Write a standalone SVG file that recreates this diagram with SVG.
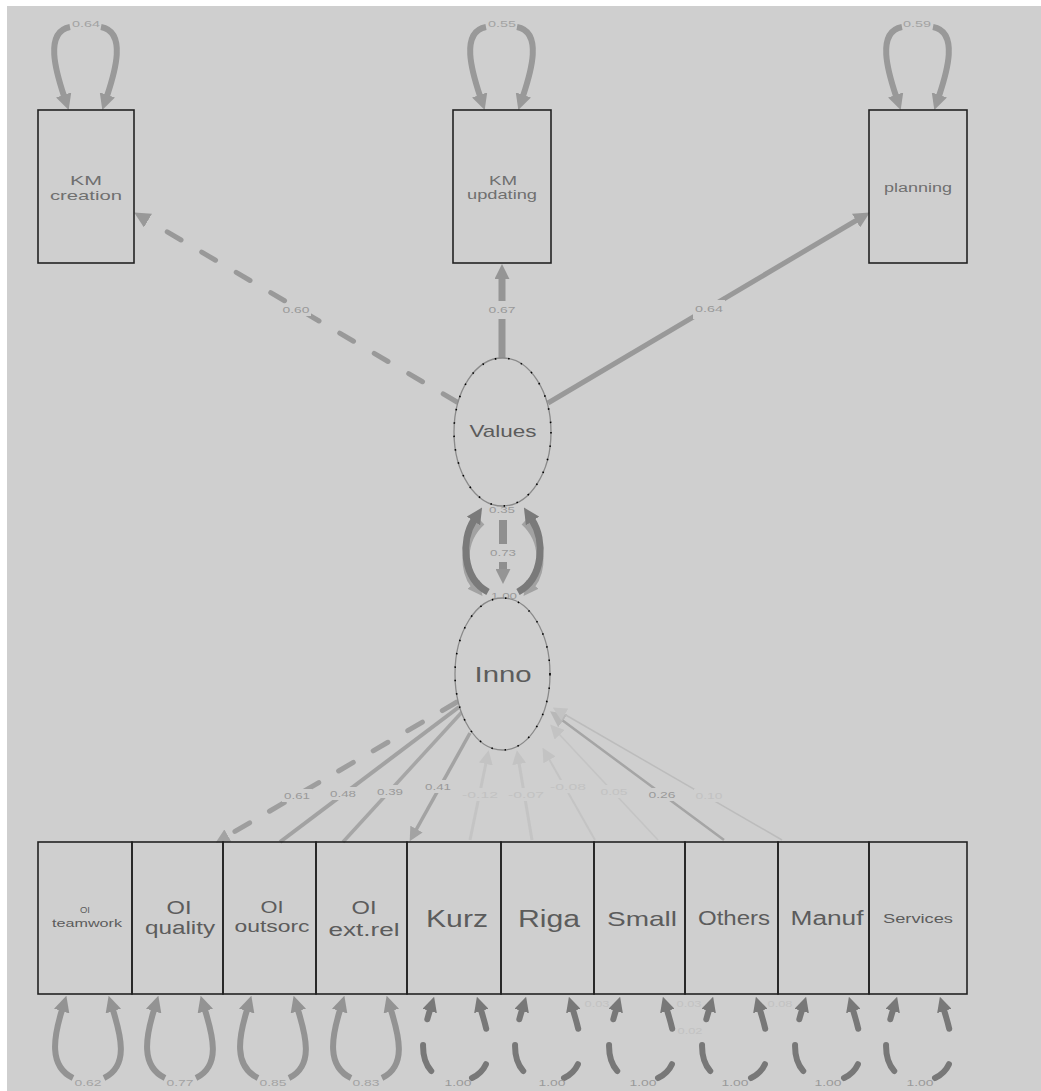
<svg xmlns="http://www.w3.org/2000/svg" width="1041" height="1091" viewBox="0 0 1041 1091">
<defs>
<style>
text{font-family:"Liberation Sans",Arial,sans-serif;text-anchor:middle}
.box{fill:none;stroke:#222;stroke-width:1.6}
.nt{fill:#5c5c5c}
.tn{fill:#707070}
.el{font-size:9px;fill:#9a9a9a}
.ef{font-size:9px;fill:#c2c2c2}
.ll{font-size:9px;fill:#a3a3a3}
.lb{fill:#cfcfcf}
.tl{fill:none;stroke:#999;stroke-width:6;marker-end:url(#aMid)}
.ol{fill:none;stroke:#939393;stroke-width:6;marker-end:url(#aMid2)}
.dl{fill:none;stroke:#787878;stroke-width:6;stroke-linecap:round;marker-end:url(#aDark)}
</style>
<marker id="aMid" viewBox="0 0 14 14" refX="1" refY="7" markerWidth="16" markerHeight="16" markerUnits="userSpaceOnUse" orient="auto"><path d="M0,0 L14,7 L0,14 z" fill="#999"/></marker>
<marker id="aMid2" viewBox="0 0 14 14" refX="1" refY="7" markerWidth="16" markerHeight="16" markerUnits="userSpaceOnUse" orient="auto"><path d="M0,0 L14,7 L0,14 z" fill="#939393"/></marker>
<marker id="aDark" viewBox="0 0 14 14" refX="1" refY="7" markerWidth="15" markerHeight="15" markerUnits="userSpaceOnUse" orient="auto"><path d="M0,0 L14,7 L0,14 z" fill="#787878"/></marker>
<marker id="aDark2" viewBox="0 0 14 14" refX="1" refY="7" markerWidth="16" markerHeight="16" markerUnits="userSpaceOnUse" orient="auto"><path d="M0,0 L14,7 L0,14 z" fill="#7a7a7a"/></marker>
<marker id="aLight" viewBox="0 0 14 14" refX="1" refY="7" markerWidth="15" markerHeight="15" markerUnits="userSpaceOnUse" orient="auto"><path d="M0,0 L14,7 L0,14 z" fill="#a2a2a2"/></marker>
<marker id="aVal" viewBox="0 0 14 14" refX="1" refY="7" markerWidth="15" markerHeight="15" markerUnits="userSpaceOnUse" orient="auto"><path d="M0,0 L14,7 L0,14 z" fill="#959595"/></marker>
<marker id="aLoad" viewBox="0 0 14 14" refX="1" refY="7" markerWidth="14" markerHeight="14" markerUnits="userSpaceOnUse" orient="auto"><path d="M0,0 L14,7 L0,14 z" fill="#a3a3a3"/></marker>
<marker id="aFaint" viewBox="0 0 14 14" refX="1" refY="7" markerWidth="14" markerHeight="14" markerUnits="userSpaceOnUse" orient="auto"><path d="M0,0 L14,7 L0,14 z" fill="#c3c3c3"/></marker>
<marker id="aFaint2" viewBox="0 0 14 14" refX="1" refY="7" markerWidth="16" markerHeight="16" markerUnits="userSpaceOnUse" orient="auto"><path d="M0,0 L14,7 L0,14 z" fill="#b8b8b8"/></marker>
<g id="topLoop">
<path class="tl" d="M-16,27 C-42,32 -30,72 -22,96"/>
<path class="tl" d="M15,27 C41,32 29,72 21,96"/>
</g>
<g id="oiLoop">
<path class="ol" d="M-13,1078 C-38,1066 -32,1036 -24,1010"/>
<path class="ol" d="M18,1078 C43,1066 35,1036 27,1010"/>
</g>
<g id="dumLoop">
<path class="dl" d="M-13,1078 C-38,1066 -32,1036 -24,1010" stroke-dasharray="28 26" stroke-dashoffset="42"/>
<path class="dl" d="M18,1078 C43,1066 35,1036 27,1010" stroke-dasharray="20 36 60"/>
</g>
</defs>
<rect width="1041" height="1091" fill="#fff"/>
<rect x="7" y="6" width="1034" height="1085" fill="#cfcfcf"/>

<g id="connectors">
<use href="#topLoop" x="86"/>
<use href="#topLoop" x="502"/>
<use href="#topLoop" x="918"/>
<text class="ll" x="86" y="27" textLength="28" lengthAdjust="spacingAndGlyphs">0.64</text>
<text class="ll" x="502" y="27" textLength="28" lengthAdjust="spacingAndGlyphs">0.55</text>
<text class="ll" x="917" y="27" textLength="28" lengthAdjust="spacingAndGlyphs">0.59</text>

<path d="M457,402 L147,220" fill="none" stroke="#999" stroke-width="5" stroke-dasharray="16 24" stroke-linecap="round" marker-end="url(#aMid)"/>
<path d="M502,358 L502,278" fill="none" stroke="#959595" stroke-width="7" marker-end="url(#aVal)"/>
<path d="M548,403 L857,220" fill="none" stroke="#999" stroke-width="5" marker-end="url(#aMid)"/>
<rect class="lb" x="281" y="304" width="30" height="12"/>
<text class="el" x="296" y="313" textLength="27" lengthAdjust="spacingAndGlyphs">0.60</text>
<rect class="lb" x="487" y="301" width="30" height="18"/>
<text class="el" x="502" y="313" textLength="27" lengthAdjust="spacingAndGlyphs">0.67</text>
<rect class="lb" x="693" y="300" width="32" height="19"/>
<text class="el" x="709" y="312" textLength="28" lengthAdjust="spacingAndGlyphs">0.64</text>

<path d="M482,522 C460,542 464,572 474,585" fill="none" stroke="#a2a2a2" stroke-width="7" marker-end="url(#aLight)"/>
<path d="M524,522 C546,542 542,572 532,585" fill="none" stroke="#a2a2a2" stroke-width="7" marker-end="url(#aLight)"/>
<path d="M488,592 C462,578 461,540 474,520" fill="none" stroke="#7a7a7a" stroke-width="7" marker-end="url(#aDark2)"/>
<path d="M518,592 C544,578 545,540 532,520" fill="none" stroke="#7a7a7a" stroke-width="7" marker-end="url(#aDark2)"/>
<path d="M503,520 L503,570" fill="none" stroke="#8f8f8f" stroke-width="8" marker-end="url(#aVal)"/>
<rect class="lb" x="489" y="544" width="28" height="18"/>
<text class="el" x="503" y="556" textLength="26" lengthAdjust="spacingAndGlyphs">0.73</text>
<text class="el" x="502" y="513" textLength="26" lengthAdjust="spacingAndGlyphs">0.35</text>
<text class="el" x="504" y="599" textLength="26" lengthAdjust="spacingAndGlyphs">1.00</text>

<path d="M457,702 L227,836" fill="none" stroke="#9e9e9e" stroke-width="5" stroke-dasharray="17 23" stroke-linecap="round" marker-end="url(#aLoad)"/>
<path d="M459,707 L280,842" fill="none" stroke="#a2a2a2" stroke-width="4"/>
<path d="M462,712 L343,842" fill="none" stroke="#a6a6a6" stroke-width="3.5"/>
<path d="M470,733 L416,830" fill="none" stroke="#a3a3a3" stroke-width="3.5" marker-end="url(#aLoad)"/>
<path d="M470,840 L486,763" fill="none" stroke="#c4c4c4" stroke-width="3" marker-end="url(#aFaint)"/>
<path d="M532,840 L519,763" fill="none" stroke="#c4c4c4" stroke-width="3" marker-end="url(#aFaint)"/>
<path d="M595,840 L549,759" fill="none" stroke="#c4c4c4" stroke-width="2" marker-end="url(#aFaint)"/>
<path d="M658,840 L559,734" fill="none" stroke="#c4c4c4" stroke-width="1.5" marker-end="url(#aFaint)"/>
<path d="M724,840 L562,720" fill="none" stroke="#a5a5a5" stroke-width="2.5" marker-end="url(#aFaint2)"/>
<path d="M782,840 L564,714" fill="none" stroke="#bcbcbc" stroke-width="1.5" marker-end="url(#aFaint)"/>

<rect class="lb" x="282" y="789" width="30" height="13"/>
<text class="el" x="297" y="799" textLength="26" lengthAdjust="spacingAndGlyphs">0.61</text>
<rect class="lb" x="328" y="787" width="30" height="13"/>
<text class="el" x="343" y="797" textLength="26" lengthAdjust="spacingAndGlyphs">0.48</text>
<rect class="lb" x="375" y="785" width="30" height="13"/>
<text class="el" x="390" y="795" textLength="26" lengthAdjust="spacingAndGlyphs">0.39</text>
<rect class="lb" x="423" y="780" width="30" height="13"/>
<text class="el" x="438" y="790" textLength="26" lengthAdjust="spacingAndGlyphs">0.41</text>
<rect class="lb" x="461" y="788" width="38" height="13"/>
<text class="ef" x="480" y="798" textLength="36" lengthAdjust="spacingAndGlyphs">-0.12</text>
<rect class="lb" x="507" y="788" width="38" height="13"/>
<text class="ef" x="526" y="798" textLength="36" lengthAdjust="spacingAndGlyphs">-0.07</text>
<rect class="lb" x="549" y="780" width="38" height="13"/>
<text class="ef" x="568" y="790" textLength="36" lengthAdjust="spacingAndGlyphs">-0.08</text>
<rect class="lb" x="599" y="785" width="30" height="13"/>
<text class="ef" x="614" y="795" textLength="27" lengthAdjust="spacingAndGlyphs">0.05</text>
<rect class="lb" x="647" y="788" width="30" height="13"/>
<text class="el" x="662" y="798" textLength="27" lengthAdjust="spacingAndGlyphs">0.26</text>
<rect class="lb" x="694" y="789" width="30" height="13"/>
<text class="ef" x="709" y="799" textLength="27" lengthAdjust="spacingAndGlyphs">0.10</text>

<use href="#oiLoop" x="86"/>
<use href="#oiLoop" x="178"/>
<use href="#oiLoop" x="271"/>
<use href="#oiLoop" x="364"/>
<use href="#dumLoop" x="454"/>
<use href="#dumLoop" x="546"/>
<use href="#dumLoop" x="640"/>
<use href="#dumLoop" x="733"/>
<use href="#dumLoop" x="826"/>
<use href="#dumLoop" x="917"/>
<text class="ll" x="88" y="1086" textLength="27" lengthAdjust="spacingAndGlyphs">0.62</text>
<text class="ll" x="180" y="1086" textLength="27" lengthAdjust="spacingAndGlyphs">0.77</text>
<text class="ll" x="273" y="1086" textLength="27" lengthAdjust="spacingAndGlyphs">0.85</text>
<text class="ll" x="366" y="1086" textLength="27" lengthAdjust="spacingAndGlyphs">0.83</text>
<text class="el" x="458" y="1086" textLength="27" lengthAdjust="spacingAndGlyphs">1.00</text>
<text class="el" x="552" y="1086" textLength="27" lengthAdjust="spacingAndGlyphs">1.00</text>
<text class="el" x="643" y="1086" textLength="27" lengthAdjust="spacingAndGlyphs">1.00</text>
<text class="el" x="735" y="1086" textLength="27" lengthAdjust="spacingAndGlyphs">1.00</text>
<text class="el" x="828" y="1086" textLength="27" lengthAdjust="spacingAndGlyphs">1.00</text>
<text class="el" x="920" y="1086" textLength="27" lengthAdjust="spacingAndGlyphs">1.00</text>
<text class="ef" x="597" y="1007" textLength="25" lengthAdjust="spacingAndGlyphs">0.03</text>
<text class="ef" x="689" y="1007" textLength="25" lengthAdjust="spacingAndGlyphs">0.03</text>
<text class="ef" x="780" y="1007" textLength="25" lengthAdjust="spacingAndGlyphs">0.08</text>
<text class="ef" x="690" y="1034" textLength="25" lengthAdjust="spacingAndGlyphs">0.02</text>
</g>

<g id="km_creation">
<rect class="box" x="38" y="110" width="96" height="153"/>
<text class="tn" x="86" y="185" font-size="13" textLength="32" lengthAdjust="spacingAndGlyphs">KM</text>
<text class="tn" x="86" y="200" font-size="13" textLength="72" lengthAdjust="spacingAndGlyphs">creation</text>
</g>
<g id="km_updating">
<rect class="box" x="453" y="110" width="98" height="153"/>
<text class="tn" x="503" y="185" font-size="13" textLength="28" lengthAdjust="spacingAndGlyphs">KM</text>
<text class="tn" x="502" y="199" font-size="13" textLength="70" lengthAdjust="spacingAndGlyphs">updating</text>
</g>
<g id="planning">
<rect class="box" x="869" y="110" width="98" height="153"/>
<text class="tn" x="918" y="192" font-size="12" textLength="68" lengthAdjust="spacingAndGlyphs">planning</text>
</g>

<g id="values">
<ellipse cx="502.5" cy="432" rx="48.5" ry="74" fill="#cfcfcf" stroke="#8a8a8a" stroke-width="1.3"/>
<ellipse cx="502.5" cy="432" rx="48.5" ry="74" fill="none" stroke="#000" stroke-width="1.6" stroke-dasharray="1.5 12"/>
<text class="nt" x="503" y="437" font-size="17" textLength="67" lengthAdjust="spacingAndGlyphs">Values</text>
</g>
<g id="inno">
<ellipse cx="502.5" cy="674" rx="47.5" ry="76" fill="#cfcfcf" stroke="#8a8a8a" stroke-width="1.3"/>
<ellipse cx="502.5" cy="674" rx="47.5" ry="76" fill="none" stroke="#000" stroke-width="1.6" stroke-dasharray="1.5 12"/>
<text class="nt" x="503" y="682" font-size="22" textLength="57" lengthAdjust="spacingAndGlyphs">Inno</text>
</g>

<g id="oi_teamwork">
<rect class="box" x="38" y="842" width="94" height="152"/>
<text class="nt" x="85" y="913" font-size="9" textLength="10" lengthAdjust="spacingAndGlyphs">OI</text>
<text class="nt" x="87" y="927" font-size="10" textLength="70" lengthAdjust="spacingAndGlyphs">teamwork</text>
</g>
<g id="oi_quality">
<rect class="box" x="132" y="842" width="91" height="152"/>
<text class="nt" x="179" y="914" font-size="18" textLength="25" lengthAdjust="spacingAndGlyphs">OI</text>
<text class="nt" x="180" y="934" font-size="18" textLength="70" lengthAdjust="spacingAndGlyphs">quality</text>
</g>
<g id="oi_outsorc">
<rect class="box" x="223" y="842" width="93" height="152"/>
<text class="nt" x="272" y="913" font-size="16" textLength="23" lengthAdjust="spacingAndGlyphs">OI</text>
<text class="nt" x="272" y="932" font-size="16" textLength="75" lengthAdjust="spacingAndGlyphs">outsorc</text>
</g>
<g id="oi_extrel">
<rect class="box" x="316" y="842" width="91" height="152"/>
<text class="nt" x="364" y="914" font-size="18" textLength="25" lengthAdjust="spacingAndGlyphs">OI</text>
<text class="nt" x="364" y="936" font-size="18" textLength="71" lengthAdjust="spacingAndGlyphs">ext.rel</text>
</g>
<g id="kurz">
<rect class="box" x="407" y="842" width="94" height="152"/>
<text class="nt" x="457" y="927" font-size="23" textLength="62" lengthAdjust="spacingAndGlyphs">Kurz</text>
</g>
<g id="riga">
<rect class="box" x="501" y="842" width="93" height="152"/>
<text class="nt" x="549" y="927" font-size="23" textLength="62" lengthAdjust="spacingAndGlyphs">Riga</text>
</g>
<g id="small">
<rect class="box" x="594" y="842" width="91" height="152"/>
<text class="nt" x="642" y="926" font-size="21" textLength="70" lengthAdjust="spacingAndGlyphs">Small</text>
</g>
<g id="others">
<rect class="box" x="685" y="842" width="93" height="152"/>
<text class="nt" x="734" y="925" font-size="20" textLength="72" lengthAdjust="spacingAndGlyphs">Others</text>
</g>
<g id="manuf">
<rect class="box" x="778" y="842" width="91" height="152"/>
<text class="nt" x="827" y="925" font-size="20" textLength="73" lengthAdjust="spacingAndGlyphs">Manuf</text>
</g>
<g id="services">
<rect class="box" x="869" y="842" width="98" height="152"/>
<text class="nt" x="918" y="923" font-size="13" textLength="70" lengthAdjust="spacingAndGlyphs">Services</text>
</g>
</svg>
